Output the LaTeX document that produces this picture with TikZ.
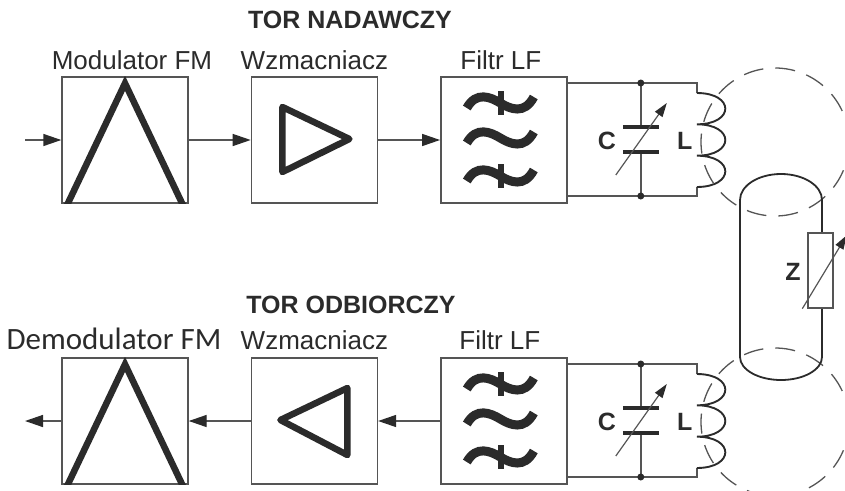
\documentclass[tikz,border=0pt]{standalone}
\usepackage{fontspec}
\setmainfont{Liberation Sans}
\newfontfamily\calibrilike{Carlito}
\usetikzlibrary{arrows.meta,positioning,calc}
\definecolor{wiregray}{HTML}{555555}
\definecolor{symbolink}{HTML}{2B2B2B}

\begin{document}
\begin{tikzpicture}[
    x=1pt, y=-1pt,
    node distance=62pt,
    block/.style={draw=wiregray, line width=1.4pt, minimum width=126pt, minimum height=126pt,
                  inner sep=0pt, fill=white},
    blocklabel/.style={anchor=base, font=\fontsize{26}{30}\selectfont, text=symbolink},
    heading/.style={anchor=base, font=\fontsize{25}{30}\selectfont\bfseries, text=symbolink},
    partlabel/.style={font=\fontsize{25}{28}\selectfont\bfseries, text=symbolink},
    glyph/.style={draw=symbolink, line width=6.5pt, line join=round},
    wire/.style={draw=wiregray, line width=1.4pt},
    arrow/.style={wire, -{Triangle[length=18pt,width=12pt,color=symbolink]}},
    trim/.style={wire, line width=1.2pt, -{Triangle[length=14pt,width=9pt,color=symbolink]}},
    field/.style={draw=wiregray, line width=1.3pt, dash pattern=on 20pt off 12pt},
    coil/.style={draw=symbolink, line width=1.9pt}
]
\useasboundingbox (0,0) rectangle (845,490);

% coupling fields round the two coils
\draw[field] (775,142) circle[radius=74pt];
\draw[field] (775,422) circle[radius=74pt];

% transmit chain
\node[block] (mod) at (125,140) {};
\node[block, right=of mod] (ampT) {};
\node[block, right=of ampT] (lpfT) {};
% receive chain
\node[block] (demod) at (125,421) {};
\node[block, right=of demod] (ampB) {};
\node[block, right=of ampB] (lpfB) {};

\node[heading] (txhead) at (350,28) {TOR NADAWCZY};
\node[heading] (rxhead) at (351,313) {TOR ODBIORCZY};
\node[blocklabel] (modlbl) at ([xshift=7pt,yshift=7pt]mod.north) {Modulator FM};
\node[blocklabel] (ampTlbl) at ([yshift=7pt]ampT.north) {Wzmacniacz};
\node[blocklabel] (lpfTlbl) at ([xshift=-3pt,yshift=7pt]lpfT.north) {Filtr LF};
\node[blocklabel, font=\calibrilike\fontsize{31}{34}\selectfont] (demodlbl)
    at ([xshift=-11pt,yshift=8pt]demod.north) {Demodulator FM};
\node[blocklabel] (ampBlbl) at ([yshift=8pt]ampB.north) {Wzmacniacz};
\node[blocklabel] (lpfBlbl) at ([xshift=-4pt,yshift=8pt]lpfB.north) {Filtr LF};

% peak symbol of the (de)modulators
\foreach \b in {mod,demod} {
  \begin{scope}
    \clip (\b.south west) rectangle (\b.north east);
    \draw[glyph, line join=miter] ($(\b.south west)+(5,3)$) -- ($(\b.north)+(0,7)$)
        -- ($(\b.south east)+(-5,3)$);
  \end{scope}
}

% amplifier triangles
\draw[glyph] ($(ampT.center)+(-32,-33)$) -- ($(ampT.center)+(35,-1)$)
    -- ($(ampT.center)+(-32,32)$) -- cycle;
\draw[glyph] ($(ampB.center)+(-34,-1)$) -- ($(ampB.center)+(33,-33)$)
    -- ($(ampB.center)+(33,34)$) -- cycle;

% filter waves, the outer two crossed
\foreach \f in {lpfT,lpfB} {
  \foreach \dy/\cut in {-37/1, -2/0, 36/1} {
    \coordinate (w) at ($(\f.center)+(-3.5,\dy)$);
    \draw[symbolink, line width=9pt] ($(w)+(-33.5,5)$)
        .. controls ($(w)+(-24,-12)$) and ($(w)+(-10,-6)$) .. (w)
        .. controls ($(w)+(10,6)$) and ($(w)+(24,12)$) .. ($(w)+(33.5,-6)$);
    \ifnum\cut=1
      \draw[symbolink, line width=6pt] ($(w)+(0.5,-12)$) -- ($(w)+(0.5,12)$);
    \fi
  }
}

% LC tank after each filter
\foreach \f in {lpfT,lpfB} {
  \coordinate (jt\f) at ($(\f.center)+(137,-57)$);
  \coordinate (jb\f) at ($(\f.center)+(137,56)$);
  \coordinate (lt\f) at ($(\f.center)+(193,-47)$);
  \coordinate (lb\f) at ($(\f.center)+(193,47)$);
  \draw[wire] (\f.east |- jt\f) -- (jt\f) -| (lt\f);
  \draw[wire] (\f.east |- jb\f) -- (jb\f) -| (lb\f);
  \draw[wire] (jt\f) -- ($(jt\f)+(0,44)$);
  \draw[wire] (jb\f) -- ($(jb\f)+(0,-44)$);
  \draw[symbolink, line width=4pt] ($(jt\f)+(-18,44)$) -- ($(jt\f)+(18,44)$);
  \draw[symbolink, line width=4pt] ($(jb\f)+(-18,-44)$) -- ($(jb\f)+(18,-44)$);
  \draw[trim] ($(\f.center)+(112,35)$) -- ($(\f.center)+(163,-37)$);
  \fill[symbolink] (jt\f) circle (3.5pt);
  \fill[symbolink] (jb\f) circle (3.5pt);
  \draw[coil] (lt\f) .. controls +(38,0) and +(38,0) .. ($(lt\f)+(0,31.3)$)
      .. controls +(38,0) and +(38,0) .. ($(lt\f)+(0,62.7)$)
      .. controls +(38,0) and +(38,0) .. (lb\f);
  \node[partlabel] (c\f) at ($(\f.center)+(103,1)$) {C};
  \node[partlabel] (l\f) at ($(\f.center)+(181,1)$) {L};
}

% signal flow
\coordinate (inT) at (25,140);
\coordinate (outB) at (25,421);
\draw[arrow] (inT) -- (mod);
\draw[arrow] (mod) -- (ampT);
\draw[arrow] (ampT) -- (lpfT);
\draw[arrow] (lpfB) -- (ampB);
\draw[arrow] (ampB) -- (demod);
\draw[arrow] (demod) -- (outB);

% body with the load impedance
\draw[symbolink, line width=1.8pt] (740,200) .. controls (740,185.6) and (758.4,174) .. (781,174)
    .. controls (803.6,174) and (822,185.6) .. (822,200);
\draw[symbolink, line width=1.8pt] (740,200) -- (740,357);
\draw[symbolink, line width=1.8pt] (822,200) -- (822,357);
\draw[symbolink, line width=1.8pt] (740,357) .. controls (740,369.7) and (758.4,380) .. (781,380)
    .. controls (803.6,380) and (822,369.7) .. (822,357);
\node[draw=wiregray, fill=white, line width=1.4pt, minimum width=25pt, minimum height=75pt,
      inner sep=0pt] (zres) at (820.5,270.5) {};
\draw[trim] ($(zres.south west)+(-5,0)$) -- ($(zres.north east)+(13,3)$);
\node[partlabel] (zlbl) at (793,272) {Z};
\end{tikzpicture}
\end{document}
